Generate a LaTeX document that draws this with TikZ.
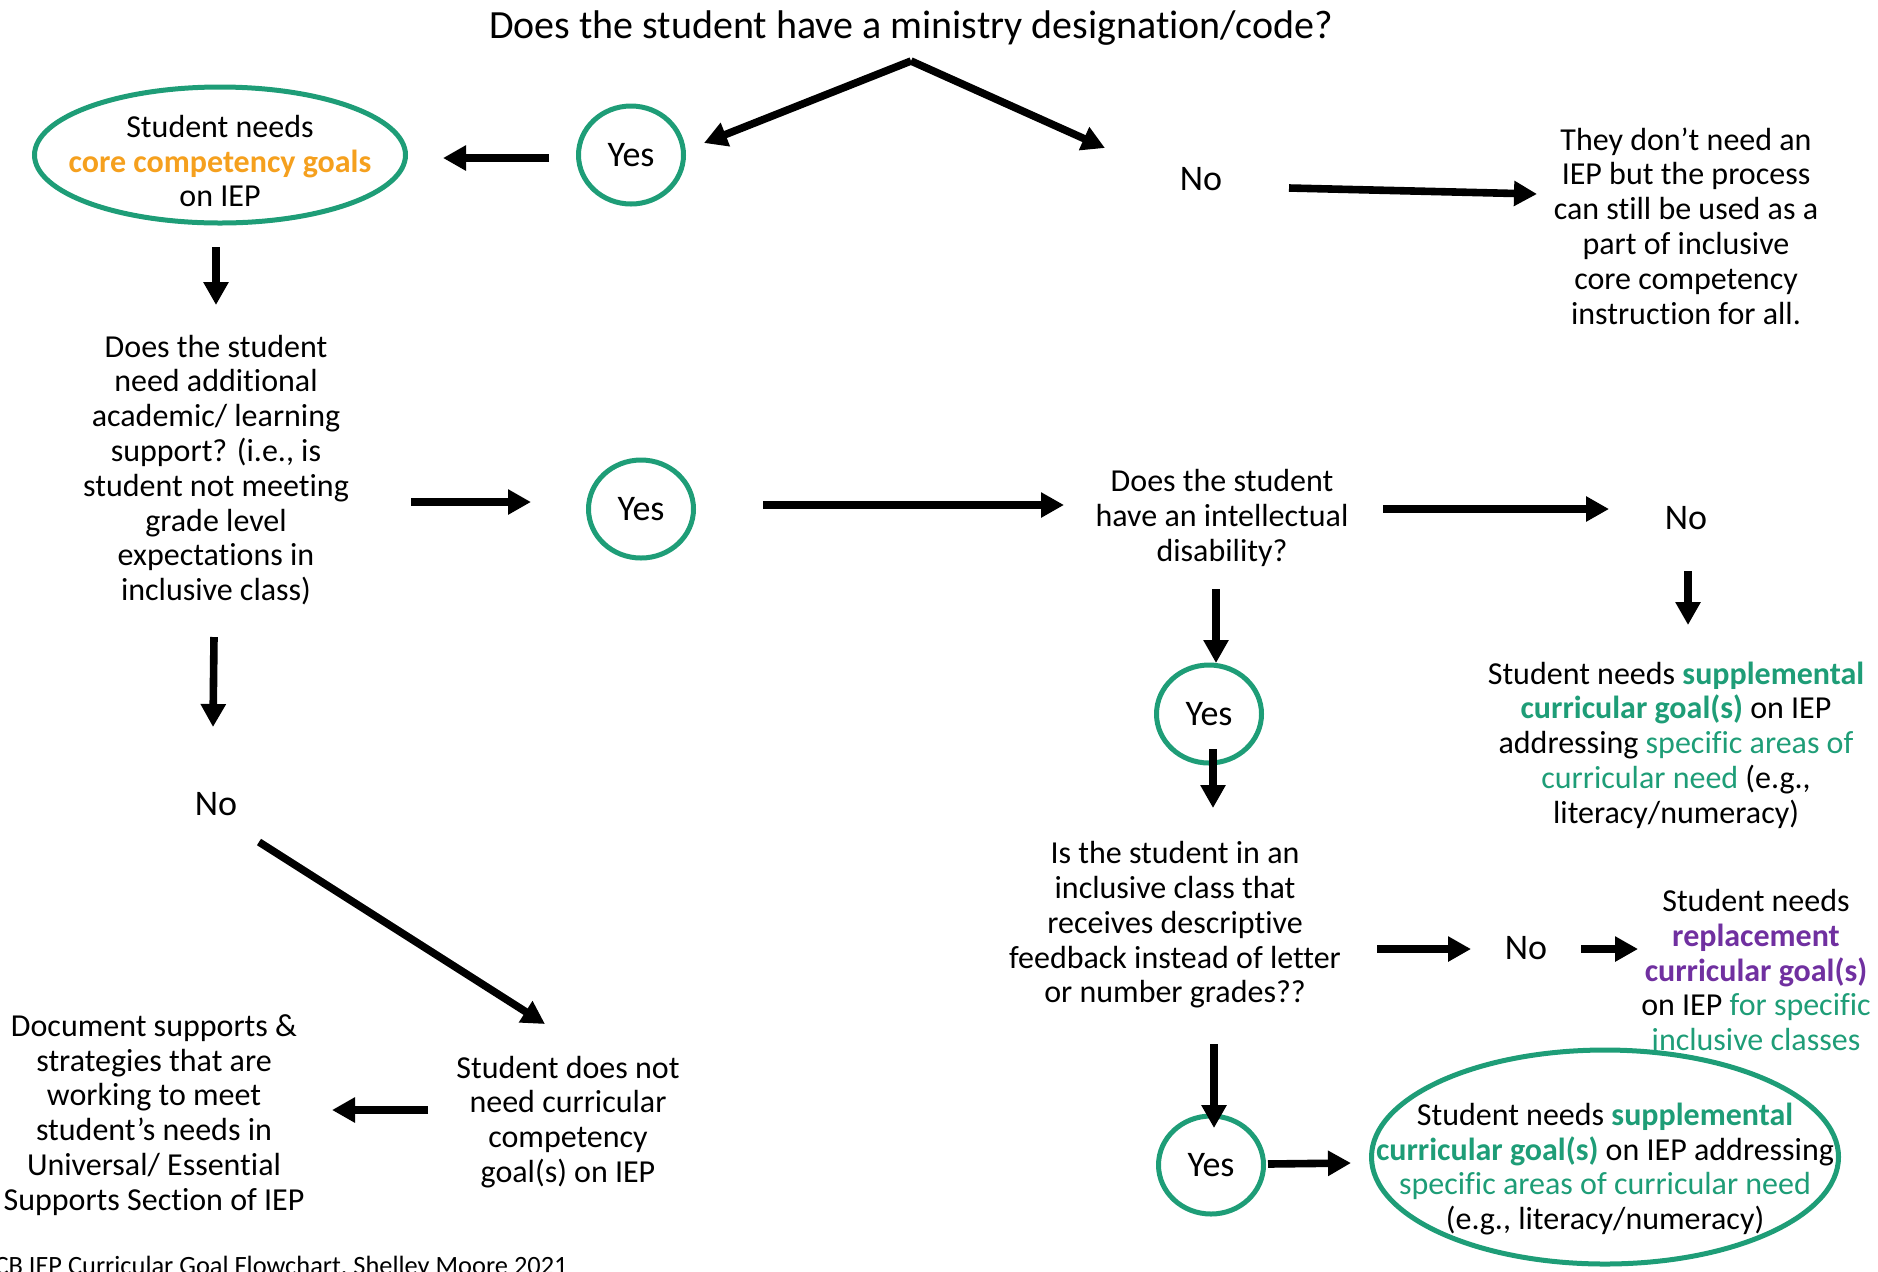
\documentclass[tikz,border=0pt]{standalone}
\usepackage{fontspec}
\setmainfont{Carlito}[Ligatures={NoCommon}]
\usetikzlibrary{arrows.meta,shapes.geometric}
\definecolor{ggreen}{RGB}{30,157,119}
\definecolor{gorange}{RGB}{245,160,30}
\definecolor{gpurple}{RGB}{112,48,160}
\newcommand{\grb}[1]{\textcolor{ggreen}{\textbf{#1}}}
\newcommand{\gr}[1]{\textcolor{ggreen}{#1}}
\newcommand{\pub}[1]{\textcolor{gpurple}{\textbf{#1}}}
\tikzset{
  arr/.style={line width=3.8pt, -{Triangle[length=11.5pt,width=12pt]}},
  txt/.style={align=center, font=\fontsize{16}{17.4}\selectfont, inner sep=0pt},
  lbl/.style={font=\fontsize{18}{20}\selectfont, inner sep=0pt},
  yesnode/.style={draw=ggreen, line width=2.5pt, ellipse, inner sep=0pt,
    minimum width=52.5pt, minimum height=49pt, font=\fontsize{18}{20}\selectfont},
  goal/.style={draw=ggreen, line width=2.5pt, ellipse, inner sep=0pt},
}
\begin{document}
\begin{tikzpicture}[x=0.5pt,y=-0.5pt]
\useasboundingbox (0,0) rectangle (1878,1271);
\clip (0,0) rectangle (1878,1271);

% title
\node[font=\fontsize{20}{22}\selectfont, inner sep=0pt] (title) at (911,28) {Does the student have a ministry designation/code?};

% nodes
\node[goal, minimum width=185.5pt, minimum height=68pt] (core) at (220,155) {};
\node[txt] (coret) at (220,161)
  {Student needs\\\textcolor{gorange}{\textbf{core competency goals}}\\on IEP};
\node[yesnode] (y1) at (631,155) {Yes};
\node[lbl] (n1) at (1201,179) {No};
\node[txt] (noiep) at (1686,226) {They don’t need an\\IEP but the process\\can still be used as a\\part of inclusive\\core competency\\instruction for all.};

\node[txt] (q2) at (216,470) {Does the student\\need additional\\academic/ learning\\support? (i.e., is\\student not meeting\\grade level\\expectations in\\inclusive class)};
\node[yesnode] (y2) at (641,509) {Yes};
\node[txt] (q3) at (1222,518) {Does the student\\have an intellectual\\disability?};
\node[lbl] (n2) at (1686,518) {No};
\node[txt] (supp1) at (1676,745) {Student needs \grb{supplemental}\\\grb{curricular goal(s)} on IEP\\addressing \gr{specific areas of}\\\gr{curricular need} (e.g.,\\literacy/numeracy)};

\node[yesnode] (y3) at (1209,714) {Yes};
\node[txt] (q4) at (1175,925) {Is the student in an\\inclusive class that\\receives descriptive\\feedback instead of letter\\or number grades??};
\node[lbl] (n3) at (1526,948) {No};
\node[txt] (repl) at (1756,970) {Student needs\\\pub{replacement}\\\pub{curricular goal(s)}\\on IEP \gr{for specific}\\\gr{inclusive classes}};
\node[yesnode] (y4) at (1211,1165) {Yes};
\node[goal, minimum width=233.5pt, minimum height=107pt] (supp2) at (1605,1157) {};
\node[txt] (supp2t) at (1605,1169) {Student needs \grb{supplemental}\\\grb{curricular goal(s)} on IEP addressing\\\gr{specific areas of curricular need}\\(e.g., literacy/numeracy)};

\node[lbl] (n4) at (216,804) {No};
\node[txt] (nocc) at (568,1122) {Student does not\\need curricular\\competency\\goal(s) on IEP};
\node[txt] (docs) at (154,1115) {Document supports \&\\strategies that are\\working to meet\\student’s needs in\\Universal/ Essential\\Supports Section of IEP};

\node[font=\fontsize{13.2}{15}\selectfont, inner sep=0pt, anchor=base east] (foot) at (568,1274) {CB IEP Curricular Goal Flowchart, Shelley Moore 2021};

% arrow end points
\coordinate (apex) at (911,61);
\coordinate (a1e) at (704,143);
\coordinate (a2e) at (1105,148);
\coordinate (a3s) at (549,158); \coordinate (a3e) at (443,158);
\coordinate (a4s) at (1289,188); \coordinate (a4e) at (1537,194);
\coordinate (a5s) at (216,247); \coordinate (a5e) at (216,305);
\coordinate (a6s) at (411,502); \coordinate (a6e) at (531,502);
\coordinate (a7s) at (763,505); \coordinate (a7e) at (1064,505);
\coordinate (a8s) at (1383,509); \coordinate (a8e) at (1609,509);
\coordinate (a9s) at (1688,571); \coordinate (a9e) at (1688,625);
\coordinate (a10s) at (1216,589); \coordinate (a10e) at (1216,663);
\coordinate (a11s) at (1213,749); \coordinate (a11e) at (1213,808);
\coordinate (a12s) at (1377,949); \coordinate (a12e) at (1471,949);
\coordinate (a13s) at (1581,949); \coordinate (a13e) at (1638,949);
\coordinate (a14s) at (1214,1044); \coordinate (a14e) at (1214,1128);
\coordinate (a15s) at (1268,1164); \coordinate (a15e) at (1351,1163);
\coordinate (a16s) at (214,637); \coordinate (a16e) at (213,727);
\coordinate (a17s) at (259,842); \coordinate (a17e) at (545,1024);
\coordinate (a18s) at (428,1110); \coordinate (a18e) at (332,1110);

\draw[arr] (apex) -- (a1e);
\draw[arr] (apex) -- (a2e);
\foreach \i in {3,...,18} { \draw[arr] (a\i s) -- (a\i e); }
\end{tikzpicture}
\end{document}
